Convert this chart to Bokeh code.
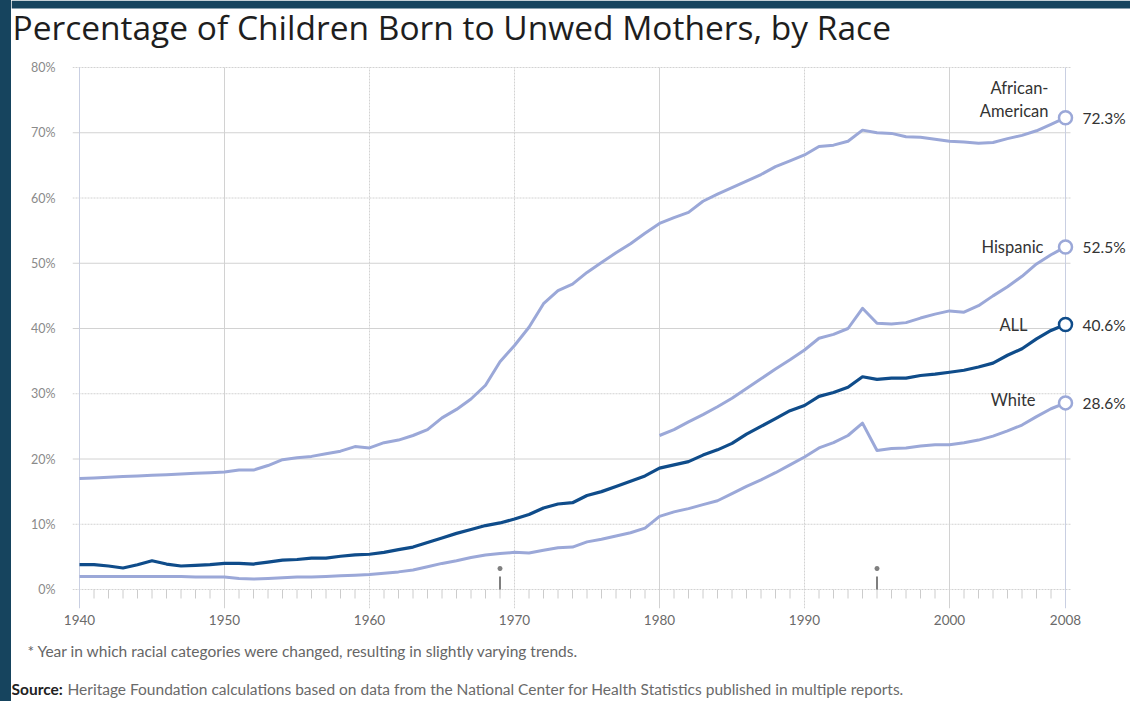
from bokeh.plotting import figure
from bokeh.models import Range1d, FixedTicker, PrintfTickFormatter
from bokeh.layouts import column
from bokeh.embed import file_html
from bokeh.resources import INLINE
from bokeh.core.properties import value

# ---------------- data ----------------
years = list(range(1940, 2009))
all_pct = [3.8, 3.8, 3.6, 3.3, 3.8, 4.4, 3.9, 3.6, 3.7, 3.8,
           4.0, 4.0, 3.9, 4.2, 4.5, 4.6, 4.8, 4.8, 5.1, 5.3,
           5.4, 5.7, 6.1, 6.5, 7.2, 7.9, 8.6, 9.2, 9.8, 10.2,
           10.8, 11.5, 12.5, 13.1, 13.3, 14.4, 15.0, 15.8, 16.6, 17.4,
           18.6, 19.1, 19.6, 20.6, 21.4, 22.4, 23.8, 25.0, 26.2, 27.4,
           28.2, 29.6, 30.2, 31.0, 32.6, 32.2, 32.4, 32.4, 32.8, 33.0,
           33.3, 33.6, 34.1, 34.7, 35.9, 36.9, 38.4, 39.7, 40.6]
white_pct = [2.0, 2.0, 2.0, 2.0, 2.0, 2.0, 2.0, 2.0, 1.9, 1.9,
             1.9, 1.7, 1.6, 1.7, 1.8, 1.9, 1.9, 2.0, 2.1, 2.2,
             2.3, 2.5, 2.7, 3.0, 3.5, 4.0, 4.4, 4.9, 5.3, 5.5,
             5.7, 5.6, 6.0, 6.4, 6.5, 7.3, 7.7, 8.2, 8.7, 9.4,
             11.2, 11.9, 12.4, 13.0, 13.6, 14.7, 15.8, 16.8, 17.9, 19.1,
             20.3, 21.7, 22.5, 23.6, 25.5, 21.3, 21.6, 21.7, 22.0, 22.2,
             22.2, 22.5, 22.9, 23.5, 24.3, 25.2, 26.5, 27.7, 28.6]
black_pct = [17.0, 17.1, 17.2, 17.3, 17.4, 17.5, 17.6, 17.7, 17.8, 17.9,
             18.0, 18.3, 18.3, 19.0, 19.9, 20.2, 20.4, 20.8, 21.2, 21.9,
             21.7, 22.5, 22.9, 23.6, 24.5, 26.3, 27.6, 29.2, 31.3, 34.9,
             37.4, 40.2, 43.8, 45.8, 46.8, 48.6, 50.1, 51.6, 53.0, 54.6,
             56.1, 57.0, 57.8, 59.5, 60.6, 61.6, 62.6, 63.6, 64.8, 65.7,
             66.6, 67.9, 68.1, 68.7, 70.4, 70.0, 69.9, 69.4, 69.3, 69.0,
             68.7, 68.6, 68.4, 68.5, 69.1, 69.6, 70.3, 71.3, 72.3]
hisp_years = list(range(1980, 2009))
hisp_pct = [23.6, 24.5, 25.7, 26.8, 28.0, 29.3, 30.8, 32.3, 33.8, 35.2,
            36.7, 38.5, 39.1, 40.0, 43.1, 40.8, 40.7, 40.9, 41.6, 42.2,
            42.7, 42.5, 43.5, 45.0, 46.4, 48.0, 49.9, 51.3, 52.5]

x_ticks = [1940, 1950, 1960, 1970, 1980, 1990, 2000, 2008]
y_ticks = [0, 10, 20, 30, 40, 50, 60, 70, 80]
dotted_y = [0, 10, 30, 60, 80]
dotted_x = [1960, 1970, 1990]
series_names = ["African-\nAmerican", "Hispanic", "ALL", "White"]
change_years = [1969, 1995]

title_text = "Percentage of Children Born to Unwed Mothers, by Race"
footnote_text = "* Year in which racial categories were changed, resulting in slightly varying trends."
source_head = "Source:"
source_text = ("Heritage Foundation calculations based on data from the National Center "
               "for Health Statistics published in multiple reports.")

# ---------------- layout (page pixels) ----------------
OFF_X = 11                 # dark strip on the left
DARK_TOP = 8               # dark strip on top
W = 1119
MAIN_TOP, MAIN_BOT = 55, 632
FRAME_L, FRAME_B = 72, 608
NOTE_H = 701 - MAIN_BOT
PX_YEAR = (1065 - 79) / 68.0
PX_PCT = (589 - 67) / 80.0

BG = "#16445e"
LIGHT = "#9ba8d8"
DARK = "#0f4c8a"
GRID = "#d2d2d2"
TXT = "#333333"
WHITE_BG = {"background-color": "white"}


def X(px):
    return 1940 + (px - 79) / PX_YEAR


def Y(py):
    return (589 - py) / PX_PCT


def no_align(f):
    try:
        f.frame_align = False
    except Exception:
        pass


def strip(h):
    f = figure(width=W, height=h, output_backend="svg", toolbar_location=None,
               x_range=Range1d(0, W), y_range=Range1d(h, 0),
               x_axis_type=None, y_axis_type=None, styles=WHITE_BG,
               min_border=0, min_border_left=0, min_border_right=0,
               min_border_top=0, min_border_bottom=0)
    f.outline_line_color = None
    f.background_fill_color = "white"
    f.border_fill_color = "white"
    no_align(f)
    return f


# ---- title strip (includes the dark band on top) ----
top = strip(MAIN_TOP)
top.quad(left=[0], right=[W], top=[0], bottom=[DARK_TOP], fill_color=BG, line_color=None)
top.text(x=[12 - OFF_X], y=[26], text=[title_text], text_font=value("Open Sans"),
         text_font_size="33.5px", text_color="#1e1e1e", text_baseline="middle", text_align="left")

# ---- main chart ----
main_h = MAIN_BOT - MAIN_TOP
frame_w = W - (FRAME_L - OFF_X)
frame_h = FRAME_B - MAIN_TOP
x_start = X(FRAME_L)
y_start = Y(FRAME_B)

p = figure(width=W, height=main_h, output_backend="svg", toolbar_location=None,
           x_range=Range1d(x_start, x_start + frame_w / PX_YEAR),
           y_range=Range1d(y_start, y_start + frame_h / PX_PCT),
           min_border_left=FRAME_L - OFF_X, min_border_right=0,
           min_border_top=0, min_border_bottom=MAIN_BOT - FRAME_B, styles=WHITE_BG)
p.outline_line_color = None
p.background_fill_color = "white"
p.border_fill_color = "white"
p.xgrid.visible = False
p.ygrid.visible = False
no_align(p)

p.yaxis.ticker = FixedTicker(ticks=y_ticks)
p.yaxis.formatter = PrintfTickFormatter(format="%d%%")
p.yaxis.axis_line_color = None
p.yaxis.major_tick_line_color = None
p.yaxis.minor_tick_line_color = None
p.yaxis.major_tick_out = 0
p.yaxis.major_label_standoff = 17
p.yaxis.major_label_text_font = "Lato"
p.yaxis.major_label_text_font_size = "12.5px"
p.yaxis.major_label_text_color = "#8a8a8a"

p.xaxis.ticker = FixedTicker(ticks=x_ticks)
p.xaxis.axis_line_color = None
p.xaxis.major_tick_line_color = None
p.xaxis.minor_tick_line_color = None
p.xaxis.major_tick_out = 0
p.xaxis.major_label_standoff = 6
p.xaxis.major_label_text_font = "Lato"
p.xaxis.major_label_text_font_size = "13.5px"
p.xaxis.major_label_text_color = "#6a6a6a"

# grid lines stopping at 2008 / 80%
gx_end = X(1070)
for t in y_ticks:
    p.segment(x0=[x_start], y0=[t], x1=[gx_end], y1=[t], line_color=GRID, line_width=1,
              line_dash="2 1" if t in dotted_y else "solid")
for t in x_ticks:
    col = "#c9cfe2" if t in (1940, 2008) else GRID
    p.segment(x0=[t], y0=[y_start], x1=[t], y1=[y_ticks[-1]], line_color=col, line_width=1,
              line_dash="2 1" if t in dotted_x else "solid")
minor = [yr for yr in years if yr not in x_ticks]
p.segment(x0=minor, y0=[0] * len(minor), x1=minor, y1=[Y(598)] * len(minor),
          line_color="#cccccc", line_width=1)

# change-year markers
p.segment(x0=change_years, y0=[0, 0], x1=change_years, y1=[Y(576), Y(576)],
          line_color="#555555", line_width=1.5)
p.scatter(x=change_years, y=[Y(568), Y(568)], size=5, marker="asterisk",
          line_color="#808080", line_width=1.5)

# series
p.line(years, black_pct, line_color=LIGHT, line_width=3, line_join="round")
p.line(hisp_years, hisp_pct, line_color=LIGHT, line_width=3, line_join="round")
p.line(years, white_pct, line_color=LIGHT, line_width=3, line_join="round")
p.line(years, all_pct, line_color=DARK, line_width=3.2, line_join="round")

ends = [(years[-1], black_pct[-1], LIGHT), (hisp_years[-1], hisp_pct[-1], LIGHT),
        (years[-1], all_pct[-1], DARK), (years[-1], white_pct[-1], LIGHT)]
for (ex, ey, col) in ends:
    p.scatter(x=[ex], y=[ey], size=13, marker="circle", fill_color="white",
              line_color=col, line_width=2.5)

name_offsets = [(-17, 3, "bottom"), (-22, 0, "middle"), (-38, 0, "middle"), (-30, -3, "middle")]
for (ex, ey, col), name, (dx, dy, base) in zip(ends, series_names, name_offsets):
    p.text(x=[ex], y=[ey], text=[name], x_offset=dx, y_offset=dy, text_align="right",
           text_baseline=base, text_font=value("Lato"), text_font_size="16.5px",
           text_color=TXT, text_line_height=1.15)
    p.text(x=[ex], y=[ey], text=[f"{ey}%"], x_offset=17, y_offset=0, text_align="left",
           text_baseline="middle", text_font=value("Lato"), text_font_size="15.5px",
           text_color=TXT)

# ---- notes strip ----
notes = strip(NOTE_H)
notes.text(x=[27 - OFF_X], y=[650 - MAIN_BOT], text=[footnote_text], text_font=value("Lato"),
           text_font_size="15.5px", text_color="#666666", text_baseline="middle")
notes.text(x=[11 - OFF_X], y=[688 - MAIN_BOT], text=[source_head], text_font=value("Lato"),
           text_font_size="15.5px", text_font_style="bold", text_color="#222222",
           text_baseline="middle")
notes.text(x=[67 - OFF_X], y=[688 - MAIN_BOT], text=[source_text], text_font=value("Lato"),
           text_font_size="15.5px", text_color="#6a6a6a", text_baseline="middle")

layout = column(top, p, notes, spacing=0, styles=WHITE_BG)

html = file_html(layout, INLINE)
css = ("<style>html, body { margin:0 !important; background:" + BG + " !important; "
       "overflow:hidden !important; } body { padding:0 0 0 11px !important; }</style>")
html = html.replace("</head>", css + "</head>", 1)
open("out.html", "w").write(html)
